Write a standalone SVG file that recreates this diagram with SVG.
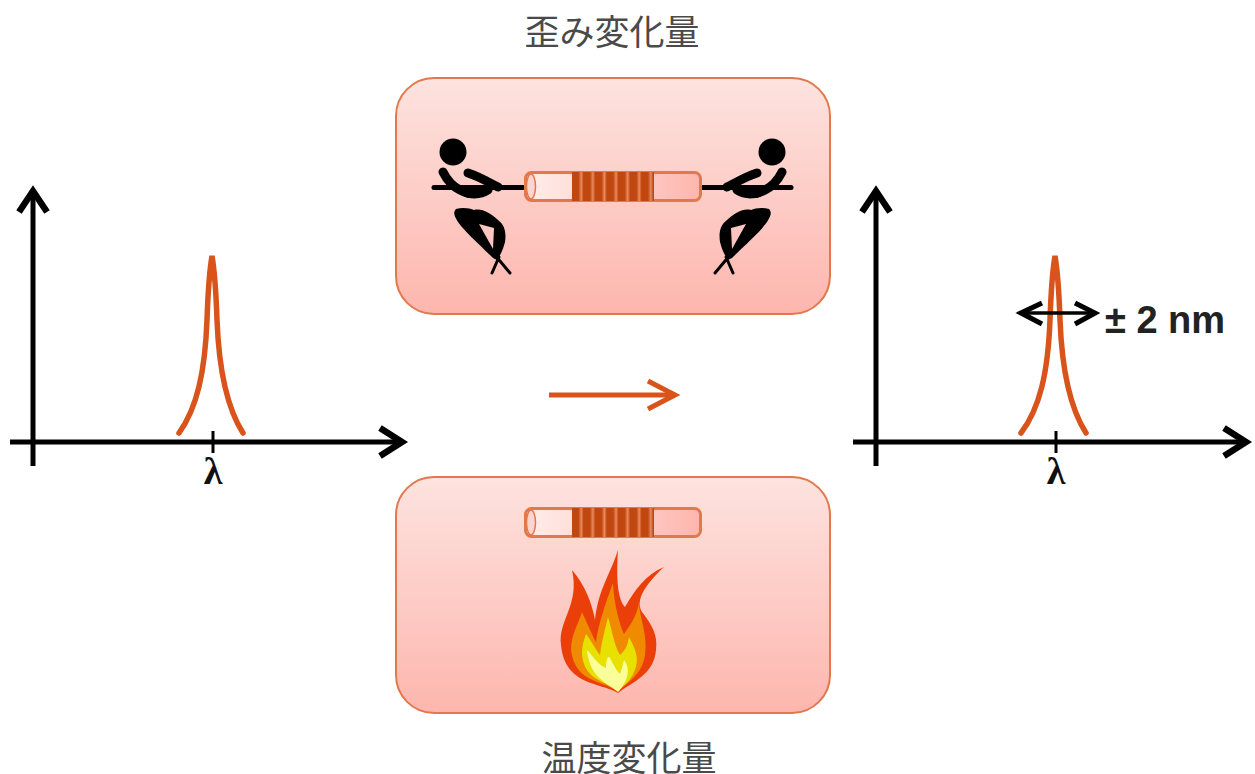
<svg xmlns="http://www.w3.org/2000/svg" xmlns:xlink="http://www.w3.org/1999/xlink" width="1255" height="774" viewBox="0 0 1255 774">
  <style>
    .title { font-family: "Noto Sans CJK JP", "Liberation Sans", sans-serif; font-size: 35px; fill: #4a4a4a; text-anchor: middle; }
    .panel { fill: url(#panelFill); stroke: #e2794c; stroke-width: 2; }
    .axis { fill: none; stroke: #000; stroke-width: 5; }
    .head { fill: none; stroke: #000; stroke-width: 6.500; }
    .peak { fill: none; stroke: #d9541a; stroke-width: 5.500; stroke-linecap: round; }
    .lambda { font-family: "Liberation Serif", serif; font-weight: bold; font-size: 38px; fill: #111; text-anchor: middle; }
    .note { font-family: "Liberation Sans", sans-serif; font-weight: bold; font-size: 38px; fill: #222; }
    .limb { fill: none; stroke: #000; stroke-linecap: round; stroke-linejoin: round; }
  </style>
  <defs>
    <linearGradient id="panelFill" x1="0" y1="0" x2="0" y2="1">
      <stop offset="0" stop-color="#fde3df"/>
      <stop offset="1" stop-color="#fdb6ae"/>
    </linearGradient>
    <linearGradient id="fibreFill" x1="0" y1="0" x2="1" y2="0">
      <stop offset="0" stop-color="#ffeeea"/>
      <stop offset="1" stop-color="#fdb6ae"/>
    </linearGradient>
    <!-- Repeating dark and light bands of the grating, one period per band -->
    <linearGradient id="gratingFill" gradientUnits="userSpaceOnUse" x1="48" y1="0" x2="59.600" y2="0" spreadMethod="repeat">
      <stop offset="0" stop-color="#c14710"/>
      <stop offset="0.550" stop-color="#c14710"/>
      <stop offset="0.800" stop-color="#e98a5c"/>
      <stop offset="1" stop-color="#c14710"/>
    </linearGradient>

    <!-- Fibre with its grating section, origin at the left end -->
    <g id="fibre">
      <rect x="1.500" y="1.500" width="175" height="28" rx="6" fill="url(#fibreFill)" stroke="#e2794c" stroke-width="3"/>
      <ellipse cx="7" cy="15.500" rx="4.500" ry="12.500" fill="#fdd5cf" stroke="#e2794c" stroke-width="1.500"/>
      <rect x="48" y="1" width="82" height="29" fill="url(#gratingFill)"/>
    </g>

    <!-- Tug-of-war figure leaning back from the rope -->
    <g id="puller">
      <circle cx="453" cy="152" r="13.500" fill="#000"/>
      <path class="limb" stroke-width="5" d="M434 187.500 H523"/>
      <path class="limb" stroke-width="9" d="M443 172 C447 180 452 186 460 190 C470 195 480 195 488 190"/>
      <path class="limb" stroke-width="9" d="M468 173 C478 176 488 182 498 187"/>
      <path fill="#000" d="M452 186 L496 186 C488 194 478 198 468 198 C462 196 456 192 452 186 Z"/>
      <path fill="#000" fill-rule="evenodd" d="M456 209 C462 207 470 208 474 210 C482 208 490 213 498 220 C506 226 506 235 505 242 C503 250 500 256 497 260 L493 258 C480 245 465 232 458 222 C454 216 453 212 456 209 Z M479 224 L494 228 L493 249 Z"/>
      <path class="limb" stroke-width="3" d="M495 255 L510 273 M499 257 L492 273"/>
    </g>
  </defs>

  <g id="strain-label"><text class="title" x="612" y="45">歪み変化量</text></g>
  <g id="temperature-label"><text class="title" x="629" y="771">温度変化量</text></g>

  <g id="strain-panel">
    <rect class="panel" x="396" y="78" width="434" height="236" rx="38"/>
    <use xlink:href="#puller" href="#puller"/>
    <use xlink:href="#puller" href="#puller" transform="matrix(-1 0 0 1 1225 0)"/>
    <use xlink:href="#fibre" href="#fibre" x="524" y="171"/>
  </g>

  <g id="temperature-panel">
    <rect class="panel" x="396" y="477" width="434" height="236" rx="38"/>
    <use xlink:href="#fibre" href="#fibre" x="524" y="507"/>
    <g id="flame">
      <path fill="#ea3f08" d="M618 693 C600 682 565 686 561 645 C558 620 580 605 572 570 C585 585 592 603 595 620 C598 590 610 575 618 550 C616 580 618 600 625 607 C635 590 645 575 664 567 C645 585 635 600 642 612 C652 625 658 635 656 650 C654 675 632 682 618 693 Z"/>
      <path fill="#f08a00" d="M618 691 C600 680 575 682 571 650 C571 635 578 625 582 612 C588 625 592 635 596 642 C598 625 605 605 613 583 C614 605 620 625 624 634 C630 625 636 618 639 603 C640 620 648 635 645 655 C642 675 628 682 618 691 Z"/>
      <path fill="#e8e000" d="M618 691 C603 680 585 680 582 655 C582 645 584 640 586 634 C592 642 596 650 600 655 C602 640 605 630 608 617 C612 630 614 645 620 655 C626 650 628 644 629 637 C636 650 640 660 634 672 C630 682 624 685 618 691 Z"/>
      <path fill="#fbff9a" d="M618 692 C606 682 590 678 587 650 C592 655 598 665 606 668 C606 660 608 655 610 658 C612 662 616 670 620 674 C622 668 623 664 624 660 C632 670 626 684 618 692 Z"/>
    </g>
  </g>

  <g id="connectors">
    <!-- Shift arrow between the panels -->
    <g id="shift-arrow" fill="none" stroke="#d9541a" stroke-width="5">
      <path d="M549 395 H672"/>
      <path d="M648 381 L675 395 L648 409"/>
    </g>

    <!-- Spectrum before -->
    <g id="axes-before">
      <path class="axis" d="M33 466 V192"/>
      <path class="head" d="M19 212 L33 191 L47 212"/>
      <path class="axis" d="M10 442 H401"/>
      <path class="head" d="M380 428 L402 442 L380 456"/>
      <path d="M213 431 V453" stroke="#000" stroke-width="3" fill="none"/>
    </g>

    <!-- Spectrum after -->
    <g id="axes-after">
      <path class="axis" d="M876 466 V192"/>
      <path class="head" d="M862 212 L876 191 L890 212"/>
      <path class="axis" d="M853 442 H1245"/>
      <path class="head" d="M1224 428 L1246 442 L1224 456"/>
      <path d="M1056 431 V453" stroke="#000" stroke-width="3" fill="none"/>
    </g>
  </g>

  <g id="peak-before">
    <path class="peak" d="M179 433 C197 408 205 372 207 320 C208 290 210 268 212 256 C214 268 216 290 217 320 C219 372 227 408 243 433"/>
    <text class="lambda" x="213" y="484">λ</text>
  </g>

  <g id="peak-after">
    <path class="peak" d="M1021 433 C1040 408 1048 372 1050 320 C1051 290 1053 268 1055 256 C1057 268 1059 290 1060 320 C1062 372 1070 408 1086 433"/>
    <text class="lambda" x="1056" y="484">λ</text>
    <!-- Shift range marker, drawn over the peak -->
    <g id="range-arrow" fill="none" stroke="#000">
      <path d="M1021 313 H1094" stroke-width="3.500"/>
      <path d="M1042 303 L1021 313 L1042 324" stroke-width="5"/>
      <path d="M1075 303 L1095 313 L1075 324" stroke-width="5"/>
    </g>
    <text class="note" x="1105" y="333">± 2 nm</text>
  </g>
</svg>
